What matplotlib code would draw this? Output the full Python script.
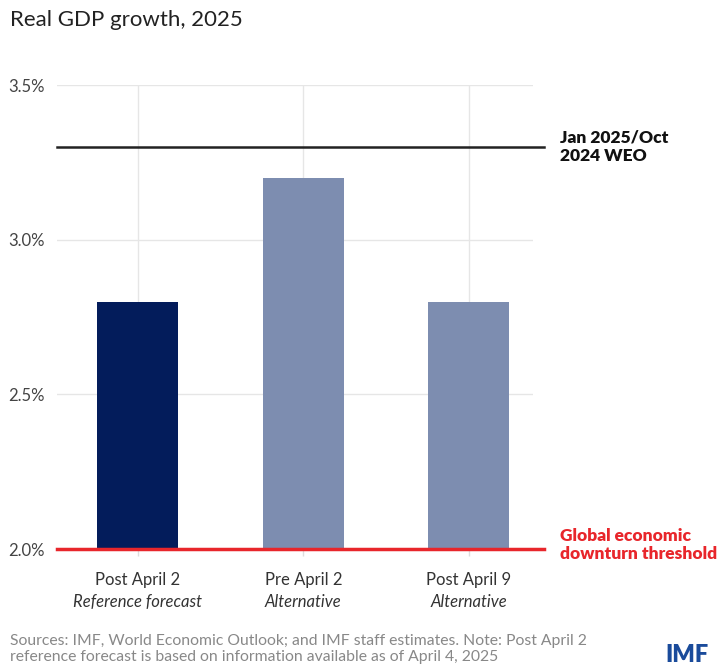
import matplotlib
matplotlib.use("Agg")
import matplotlib.pyplot as plt
from matplotlib.ticker import FuncFormatter

categories = ["Post April 2", "Pre April 2", "Post April 9"]
subtitles = ["Reference forecast", "Alternative", "Alternative"]
values = [2.8, 3.2, 2.8]
bar_colors = ["#031c5b", "#7d8db0", "#7d8db0"]
weo_value = 3.3
threshold = 2.0
yticks = [2.0, 2.5, 3.0, 3.5]

plt.rcParams['font.family'] = ['Lato', 'DejaVu Sans']

fig = plt.figure(figsize=(7.26, 6.70), dpi=100)
W, H = 726, 670
ax = fig.add_axes([57 / W, 1 - 549 / H, (533 - 57) / W, (549 - 85) / H])

x = list(range(len(categories)))
ax.bar(x, values, width=0.49, color=bar_colors, zorder=2)
ax.set_xlim(-0.49, 2.39)
ax.set_ylim(2.0, 3.5)
ax.set_yticks(yticks)
ax.yaxis.set_major_formatter(FuncFormatter(lambda v, p: f"{v:.1f}%"))
ax.set_xticks(x)
ax.set_xticklabels([])
ax.grid(True, color="#e6e6e6", linewidth=1.0, zorder=0)
for s in ax.spines.values():
    s.set_visible(False)
ax.tick_params(axis="y", length=0, labelsize=12, labelcolor="#444444", pad=9)
ax.tick_params(axis="x", length=5, color="#dddddd", width=1)

xr = [-0.49, 2.455]
ax.plot(xr, [weo_value, weo_value], color="#222222", linewidth=1.8, clip_on=False, zorder=3)
ax.plot(xr, [threshold, threshold], color="#e8262b", linewidth=2.5, clip_on=False, zorder=3)

for xi, c, s in zip(x, categories, subtitles):
    ax.text(xi, 1.900, c, ha="center", va="center", fontsize=12, color="#333333")
    ax.text(xi, 1.830, s, ha="center", va="center", fontsize=12, color="#333333", style="italic")

fig.text(10 / W, 1 - 20 / H, "Real GDP growth, 2025", fontsize=16, color="#222222",
         ha="left", va="center")
fig.text(560 / W, 1 - 147 / H, "Jan 2025/Oct\n2024 WEO", fontsize=12.5, fontweight="heavy",
         color="#111111", ha="left", va="center", linespacing=1.2)
fig.text(560 / W, 1 - 545 / H, "Global economic\ndownturn threshold", fontsize=12.5,
         fontweight="heavy", color="#e8262b", ha="left", va="center", linespacing=1.2)
fig.text(10 / W, 1 - 649 / H,
         "Sources: IMF, World Economic Outlook; and IMF staff estimates. Note: Post April 2\n"
         "reference forecast is based on information available as of April 4, 2025",
         fontsize=11.3, color="#888888", ha="left", va="center", linespacing=1.2)
fig.text(665 / W, 1 - 644 / H, "IMF", fontsize=17, fontweight="heavy", color="#1a4b9b",
         ha="left", va="top")

fig.savefig("out.png", dpi=100, facecolor="white")
